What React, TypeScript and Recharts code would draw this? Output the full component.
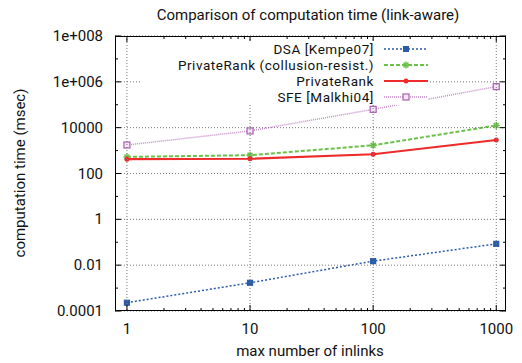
import React from 'react';
import { LineChart, Line, XAxis, YAxis } from 'recharts';

// max number of inlinks
const inlinks = [1, 10, 100, 1000];

// computation time (msec)
const dsaKempe = [0.00023, 0.0017, 0.015, 0.085];
const privateRankCollusion = [530, 630, 1700, 12500];
const privateRank = [420, 440, 690, 2900];
const sfeMalkhi = [1750, 7200, 63000, 620000];

const xMajor = [1, 10, 100, 1000];
const xMajorLabels = ['1', '10', '100', '1000'];
const xMinor = [2, 3, 4, 5, 6, 7, 8, 9, 20, 30, 40, 50, 60, 70, 80, 90, 200, 300, 400, 500, 600, 700, 800, 900];

const yMajor = [0.0001, 0.01, 1, 100, 10000, 1e6, 1e8];
const yMajorLabels = ['0.0001', '0.01', '1', '100', '10000', '1e+006', '1e+008'];
const yMinor = [0.001, 0.1, 10, 1000, 1e5, 1e7];

const data = inlinks.map((x, i) => ({
  x,
  dsa: dsaKempe[i],
  collusion: privateRankCollusion[i],
  pr: privateRank[i],
  sfe: sfeMalkhi[i],
}));

const FONT = 'Roboto, sans-serif';
const FS = 15;
const W = 522;
const H = 363;
const PL = 115;
const PR = 506;
const PT = 36;
const PB = 311;
const X_DOMAIN = [0.8, 1200];
const Y_DOMAIN = [0.0001, 1e8];
const GRID = '#777';

const findIdx = (arr: number[], v: number) => arr.findIndex(a => Math.abs(a - v) / a < 1e-6);

// gnuplot style: inward ticks mirrored on both sides, dotted grid on major ticks
const XTick = (props: any) => {
  const { x, payload } = props;
  const i = findIdx(xMajor, payload.value);
  const major = i >= 0;
  const len = major ? 6 : 3;
  return (
    <g>
      {major && <line x1={x} x2={x} y1={PT} y2={PB} stroke={GRID} strokeWidth={1} strokeDasharray="1 2" />}
      <line x1={x} x2={x} y1={PB} y2={PB - len} stroke="#000" strokeWidth={1} />
      <line x1={x} x2={x} y1={PT} y2={PT + len} stroke="#000" strokeWidth={1} />
      {major && (
        <text x={x} y={PB + 23} textAnchor="middle" fontSize={FS} fontFamily={FONT} fill="#111">
          {xMajorLabels[i]}
        </text>
      )}
    </g>
  );
};

const YTick = (props: any) => {
  const { y, payload } = props;
  const i = findIdx(yMajor, payload.value);
  const major = i >= 0;
  const len = major ? 6 : 3;
  return (
    <g>
      {major && <line x1={PL} x2={PR} y1={y} y2={y} stroke={GRID} strokeWidth={1} strokeDasharray="1 2" />}
      <line x1={PL} x2={PL + len} y1={y} y2={y} stroke="#000" strokeWidth={1} />
      <line x1={PR - len} x2={PR} y1={y} y2={y} stroke="#000" strokeWidth={1} />
      {major && (
        <text x={PL - 12} y={y + 5} textAnchor="end" fontSize={FS} fontFamily={FONT} fill="#111">
          {yMajorLabels[i]}
        </text>
      )}
    </g>
  );
};

const SquareDot = (fill: string, stroke: string, size: number) => (props: any) => {
  const { cx, cy, index } = props;
  if (cx == null || cy == null) return null;
  return (
    <rect
      key={index}
      x={cx - size / 2}
      y={cy - size / 2}
      width={size}
      height={size}
      fill={fill}
      stroke={stroke}
      strokeWidth={1.2}
    />
  );
};

const StarDot = (props: any) => {
  const { cx, cy } = props;
  if (cx == null || cy == null) return null;
  const r = 3.5;
  return (
    <g stroke="#6cc04a" strokeWidth={1.5}>
      <line x1={cx - r} x2={cx + r} y1={cy} y2={cy} />
      <line x1={cx} x2={cx} y1={cy - r} y2={cy + r} />
      <line x1={cx - r * 0.7} x2={cx + r * 0.7} y1={cy - r * 0.7} y2={cy + r * 0.7} />
      <line x1={cx - r * 0.7} x2={cx + r * 0.7} y1={cy + r * 0.7} y2={cy - r * 0.7} />
    </g>
  );
};

const PlusDot = (props: any) => {
  const { cx, cy } = props;
  if (cx == null || cy == null) return null;
  return <circle cx={cx} cy={cy} r={2.5} fill="#ee2a2a" />;
};

const legendItems = [
  { label: 'DSA [Kempe07]', color: '#2a5caa', dash: '2 2', width: 1.5, marker: 'sq' },
  { label: 'PrivateRank (collusion-resist.)', color: '#6cc04a', dash: '4 2', width: 2, marker: 'star' },
  { label: 'PrivateRank', color: '#ee2a2a', dash: undefined, width: 2.2, marker: 'dot' },
  { label: 'SFE [Malkhi04]', color: '#c58bc9', dash: '1 1', width: 1.5, marker: 'osq' },
];

const LegendBox = () => (
  <div
    style={{
      position: 'absolute',
      left: 140,
      top: 41,
      width: 288,
      background: '#fff',
      fontFamily: FONT,
      fontSize: 13.5,
      letterSpacing: 0.55,
      color: '#111',
    }}
  >
    {legendItems.map(it => (
      <div key={it.label} style={{ display: 'flex', alignItems: 'center', justifyContent: 'flex-end', height: 16.1 }}>
        <span style={{ whiteSpace: 'nowrap', lineHeight: '15px' }}>{it.label}</span>
        <svg width={44} height={12} style={{ marginLeft: 10 }}>
          <line x1={0} x2={44} y1={6} y2={6} stroke={it.color} strokeWidth={it.width} strokeDasharray={it.dash} />
          {it.marker === 'sq' && <rect x={19} y={3} width={6} height={6} fill="#2a5caa" />}
          {it.marker === 'star' && <StarDot cx={22} cy={6} />}
          {it.marker === 'dot' && <circle cx={22} cy={6} r={2.5} fill="#ee2a2a" />}
          {it.marker === 'osq' && <rect x={19} y={3} width={6} height={6} fill="#f4e6f4" stroke="#a860b0" strokeWidth={1.2} />}
        </svg>
      </div>
    ))}
  </div>
);

const textStyle = { fontFamily: FONT, fontSize: FS, color: '#111', whiteSpace: 'nowrap' as const };

export default function App() {
  return (
    <div style={{ position: 'absolute', left: 0, top: 0, width: W, height: H, background: '#fff' }}>
      <div style={{ ...textStyle, position: 'absolute', left: 308, top: 15, transform: 'translate(-50%, -50%)' }}>
        Comparison of computation time (link-aware)
      </div>
      <div
        style={{ ...textStyle, position: 'absolute', left: 20, top: 173, transform: 'translate(-50%, -50%) rotate(-90deg)' }}
      >
        computation time (msec)
      </div>
      <div style={{ ...textStyle, position: 'absolute', left: 310, top: 351, transform: 'translate(-50%, -50%)' }}>
        max number of inlinks
      </div>
      <LineChart
        width={W}
        height={H}
        data={data}
        margin={{ top: PT, right: W - PR, bottom: 0, left: 0 }}
        style={{ position: 'absolute', left: 0, top: 0 }}
      >
        <XAxis
          dataKey="x"
          type="number"
          scale="log"
          domain={X_DOMAIN}
          allowDataOverflow
          ticks={[...xMajor, ...xMinor]}
          interval={0}
          tick={<XTick />}
          tickLine={false}
          axisLine={false}
          height={H - PB}
        />
        <YAxis
          type="number"
          scale="log"
          domain={Y_DOMAIN}
          allowDataOverflow
          ticks={[...yMajor, ...yMinor]}
          interval={0}
          tick={<YTick />}
          tickLine={false}
          axisLine={false}
          width={PL}
        />
        <Line
          dataKey="sfe"
          stroke="#c58bc9"
          strokeWidth={1.5}
          strokeDasharray="1 1"
          dot={SquareDot('#f4e6f4', '#a860b0', 6)}
          isAnimationActive={false}
        />
        <Line
          dataKey="collusion"
          stroke="#6cc04a"
          strokeWidth={2}
          strokeDasharray="4 2"
          dot={<StarDot />}
          isAnimationActive={false}
        />
        <Line dataKey="pr" stroke="#ee2a2a" strokeWidth={2.2} dot={<PlusDot />} isAnimationActive={false} />
        <Line
          dataKey="dsa"
          stroke="#2a5caa"
          strokeWidth={1.5}
          strokeDasharray="2 2"
          dot={SquareDot('#2a5caa', '#2a5caa', 5)}
          isAnimationActive={false}
        />
      </LineChart>
      <LegendBox />
      <div
        style={{
          position: 'absolute',
          left: PL,
          top: PT,
          width: PR - PL,
          height: PB - PT,
          border: '1.5px solid #000',
          boxSizing: 'border-box',
          pointerEvents: 'none',
        }}
      />
    </div>
  );
}
